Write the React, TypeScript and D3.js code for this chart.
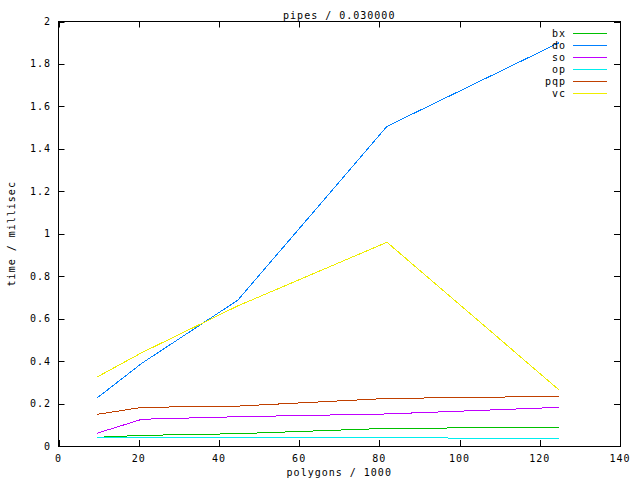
import React from "react";
import * as d3 from "d3";

const xs = [9.6, 20.8, 44.7, 81.9, 124.8];
const seriesNames = ["bx", "do", "so", "op", "pqp", "vc"];
const bx = [0.041, 0.05, 0.058, 0.083, 0.088];
const doV = [0.226, 0.39, 0.687, 1.506, 1.9];
const so = [0.06, 0.126, 0.138, 0.151, 0.182];
const op = [0.042, 0.041, 0.04, 0.038, 0.037];
const pqp = [0.149, 0.182, 0.188, 0.224, 0.234];
const vc = [0.325, 0.44, 0.66, 0.96, 0.264];
const seriesValues = [bx, doV, so, op, pqp, vc];
const colors = ["#00c000", "#0080ff", "#c000ff", "#00eeee", "#c04000", "#eeee00"];
const xTicks = [0, 20, 40, 60, 80, 100, 120, 140];
const yTicks = [0, 0.2, 0.4, 0.6, 0.8, 1, 1.2, 1.4, 1.6, 1.8, 2];

const W = 640, H = 480;
const L = 58.5, R = 620, T = 21.5, B = 446;
const font = "'DejaVu Sans Mono', monospace";

export default function App() {
  const x = d3.scaleLinear().domain([0, 140]).range([L, R]);
  const y = d3.scaleLinear().domain([0, 2]).range([B, T]);
  const line = d3.line<number>().x((_, i) => x(xs[i])).y((v) => y(v));
  const fmtY = (v: number) => (v === 0 || v === 1 || v === 2 ? String(v) : d3.format(".1f")(v));
  return (
    <svg width={W} height={H} style={{ position: "absolute", left: 0, top: 0, background: "#fff" }}>
      <rect x={0} y={0} width={W} height={H} fill="#fff" />
      <g fontFamily={font} fontSize={10} letterSpacing={1} fill="#000">
        {yTicks.map((t) => (
          <g key={"y" + t}>
            <line x1={L} x2={L + 6} y1={Math.round(y(t)) + 0.5} y2={Math.round(y(t)) + 0.5} stroke="#000" />
            <line x1={R} x2={R - 6} y1={Math.round(y(t)) + 0.5} y2={Math.round(y(t)) + 0.5} stroke="#000" />
            <text x={51} y={y(t)} dy="0.35em" textAnchor="end">{fmtY(t)}</text>
          </g>
        ))}
        {xTicks.map((t) => (
          <g key={"x" + t}>
            <line x1={Math.round(x(t)) + 0.5} x2={Math.round(x(t)) + 0.5} y1={B} y2={B - 6} stroke="#000" />
            <line x1={Math.round(x(t)) + 0.5} x2={Math.round(x(t)) + 0.5} y1={T} y2={T + 6} stroke="#000" />
            <text x={x(t)} y={458} dy="0.35em" textAnchor="middle">{t}</text>
          </g>
        ))}
        <rect x={L} y={T} width={R - L} height={B - T} fill="none" stroke="#000" shapeRendering="crispEdges" />
        <text x={(L + R) / 2} y={15.5} dy="0.35em" textAnchor="middle">pipes / 0.030000</text>
        <text x={(L + R) / 2} y={472} dy="0.35em" textAnchor="middle">polygons / 1000</text>
        <text transform={`translate(11,${(T + B) / 2}) rotate(-90)`} dy="0.35em" textAnchor="middle">time / millisec</text>
        {seriesValues.map((vals, k) => (
          <path key={"s" + seriesNames[k]} d={line(vals) || ""} fill="none" stroke={colors[k]} strokeWidth={1} shapeRendering="crispEdges" />
        ))}
        {seriesNames.map((n, k) => (
          <g key={"leg" + n}>
            <text x={566} y={33 + k * 12} dy="0.35em" textAnchor="end">{n}</text>
            <line x1={573} x2={607} y1={33.5 + k * 12} y2={33.5 + k * 12} stroke={colors[k]} strokeWidth={1} shapeRendering="crispEdges" />
          </g>
        ))}
      </g>
    </svg>
  );
}
